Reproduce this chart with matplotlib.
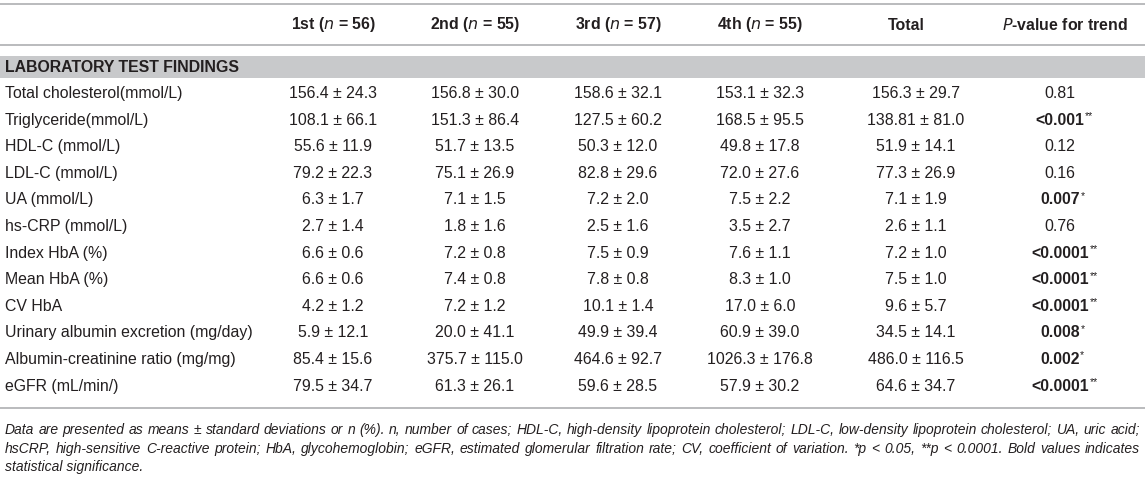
import matplotlib
matplotlib.use("Agg")
import matplotlib.pyplot as plt

plt.rcParams['font.family'] = ['Liberation Sans', 'DejaVu Sans']

# table content
headers = ["1st ($\\it{n}$ = 56)", "2nd ($\\it{n}$ = 55)", "3rd ($\\it{n}$ = 57)",
           "4th ($\\it{n}$ = 55)", "Total"]
section = "LABORATORY TEST FINDINGS"
row_labels = ["Total cholesterol(mmol/L)", "Triglyceride(mmol/L)", "HDL-C (mmol/L)",
              "LDL-C (mmol/L)", "UA (mmol/L)", "hs-CRP (mmol/L)", "Index HbA (%)",
              "Mean HbA (%)", "CV HbA", "Urinary albumin excretion (mg/day)",
              "Albumin-creatinine ratio (mg/mg)", "eGFR (mL/min/)"]
q1 = ["156.4 ± 24.3", "108.1 ± 66.1", "55.6 ± 11.9", "79.2 ± 22.3", "6.3 ± 1.7",
      "2.7 ± 1.4", "6.6 ± 0.6", "6.6 ± 0.6", "4.2 ± 1.2", "5.9 ± 12.1",
      "85.4 ± 15.6", "79.5 ± 34.7"]
q2 = ["156.8 ± 30.0", "151.3 ± 86.4", "51.7 ± 13.5", "75.1 ± 26.9", "7.1 ± 1.5",
      "1.8 ± 1.6", "7.2 ± 0.8", "7.4 ± 0.8", "7.2 ± 1.2", "20.0 ± 41.1",
      "375.7 ± 115.0", "61.3 ± 26.1"]
q3 = ["158.6 ± 32.1", "127.5 ± 60.2", "50.3 ± 12.0", "82.8 ± 29.6", "7.2 ± 2.0",
      "2.5 ± 1.6", "7.5 ± 0.9", "7.8 ± 0.8", "10.1 ± 1.4", "49.9 ± 39.4",
      "464.6 ± 92.7", "59.6 ± 28.5"]
q4 = ["153.1 ± 32.3", "168.5 ± 95.5", "49.8 ± 17.8", "72.0 ± 27.6", "7.5 ± 2.2",
      "3.5 ± 2.7", "7.6 ± 1.1", "8.3 ± 1.0", "17.0 ± 6.0", "60.9 ± 39.0",
      "1026.3 ± 176.8", "57.9 ± 30.2"]
total = ["156.3 ± 29.7", "138.81 ± 81.0", "51.9 ± 14.1", "77.3 ± 26.9", "7.1 ± 1.9",
         "2.6 ± 1.1", "7.2 ± 1.0", "7.5 ± 1.0", "9.6 ± 5.7", "34.5 ± 14.1",
         "486.0 ± 116.5", "64.6 ± 34.7"]
p_values = ["0.81", "<0.001", "0.12", "0.16", "0.007", "0.76", "<0.0001", "<0.0001",
            "<0.0001", "0.008", "0.002", "<0.0001"]
p_stars = ["", "**", "", "", "*", "", "**", "**", "**", "*", "*", "**"]

footnote = [
    "Data are presented as means ± standard deviations or n (%). n, number of cases; HDL-C, high-density lipoprotein cholesterol; LDL-C, low-density lipoprotein cholesterol; UA, uric acid;",
    "hsCRP, high-sensitive C-reactive protein; HbA, glycohemoglobin; eGFR, estimated glomerular filtration rate; CV, coefficient of variation. *p < 0.05, **p < 0.0001. Bold values indicates",
    "statistical significance.",
]

W, H = 1145, 482
fig = plt.figure(figsize=(W / 100, H / 100), dpi=100)
ax = fig.add_axes([0, 0, 1, 1])
ax.set_xlim(0, W)
ax.set_ylim(H, 0)
ax.axis('off')

txt = '#231f20'
line_c = '#b4b5b7'
fs = 11.4

col_x = [333, 475, 618, 760, 916]
head_x = [333, 475, 618, 760, 906]
p_x = 1060
row_y0, row_dy = 93.5, 26.6

# rules and section band
for y in (4, 45, 408):
    ax.axhline(y, color=line_c, lw=1.3)
ax.axhspan(56, 78, color='#c8c9cb', lw=0)

# header
for x, h in zip(head_x, headers):
    ax.text(x, 25, h, ha='center', va='center', fontsize=fs, fontweight='bold', color=txt)
ax.text(p_x + 5, 25, "$\\it{P}$-value for trend", ha='center', va='center',
        fontsize=fs, fontweight='bold', color=txt)
ax.text(5, 67, section, ha='left', va='center', fontsize=fs, fontweight='bold', color=txt)

fig.canvas.draw()
renderer = fig.canvas.get_renderer()
inv = ax.transData.inverted()

# body rows
for i, lab in enumerate(row_labels):
    y = row_y0 + i * row_dy
    ax.text(5, y, lab, ha='left', va='center', fontsize=fs, color=txt)
    for x, col in zip(col_x, [q1, q2, q3, q4, total]):
        ax.text(x, y, col[i], ha='center', va='center', fontsize=fs, color=txt)
    bold = p_stars[i] != ""
    t = ax.text(p_x, y, p_values[i], ha='center', va='center', fontsize=fs,
                fontweight='bold' if bold else 'normal', color=txt)
    if bold:
        bb = t.get_window_extent(renderer)
        x_end = inv.transform((bb.x1, bb.y1))[0]
        ax.text(x_end + 0.5, y - 4, p_stars[i], ha='left', va='center',
                fontsize=7.5, color=txt)

# footnote, first two lines justified
fn_fs = 10.0
fn_y = [430, 449, 467]
left, right = 5, 1140
for k, line in enumerate(footnote):
    if k == len(footnote) - 1:
        ax.text(left, fn_y[k], line, ha='left', va='center', fontsize=fn_fs,
                style='italic', color=txt)
        continue
    words = line.split(' ')
    widths = []
    arts = []
    for w in words:
        a = ax.text(0, fn_y[k], w, ha='left', va='center', fontsize=fn_fs,
                    style='italic', color=txt)
        bb = a.get_window_extent(renderer)
        widths.append(bb.width)
        arts.append(a)
    gap = (right - left - sum(widths)) / (len(words) - 1)
    x = left
    for a, wd in zip(arts, widths):
        a.set_x(x)
        x += wd + gap

fig.savefig('out.png', dpi=100)
